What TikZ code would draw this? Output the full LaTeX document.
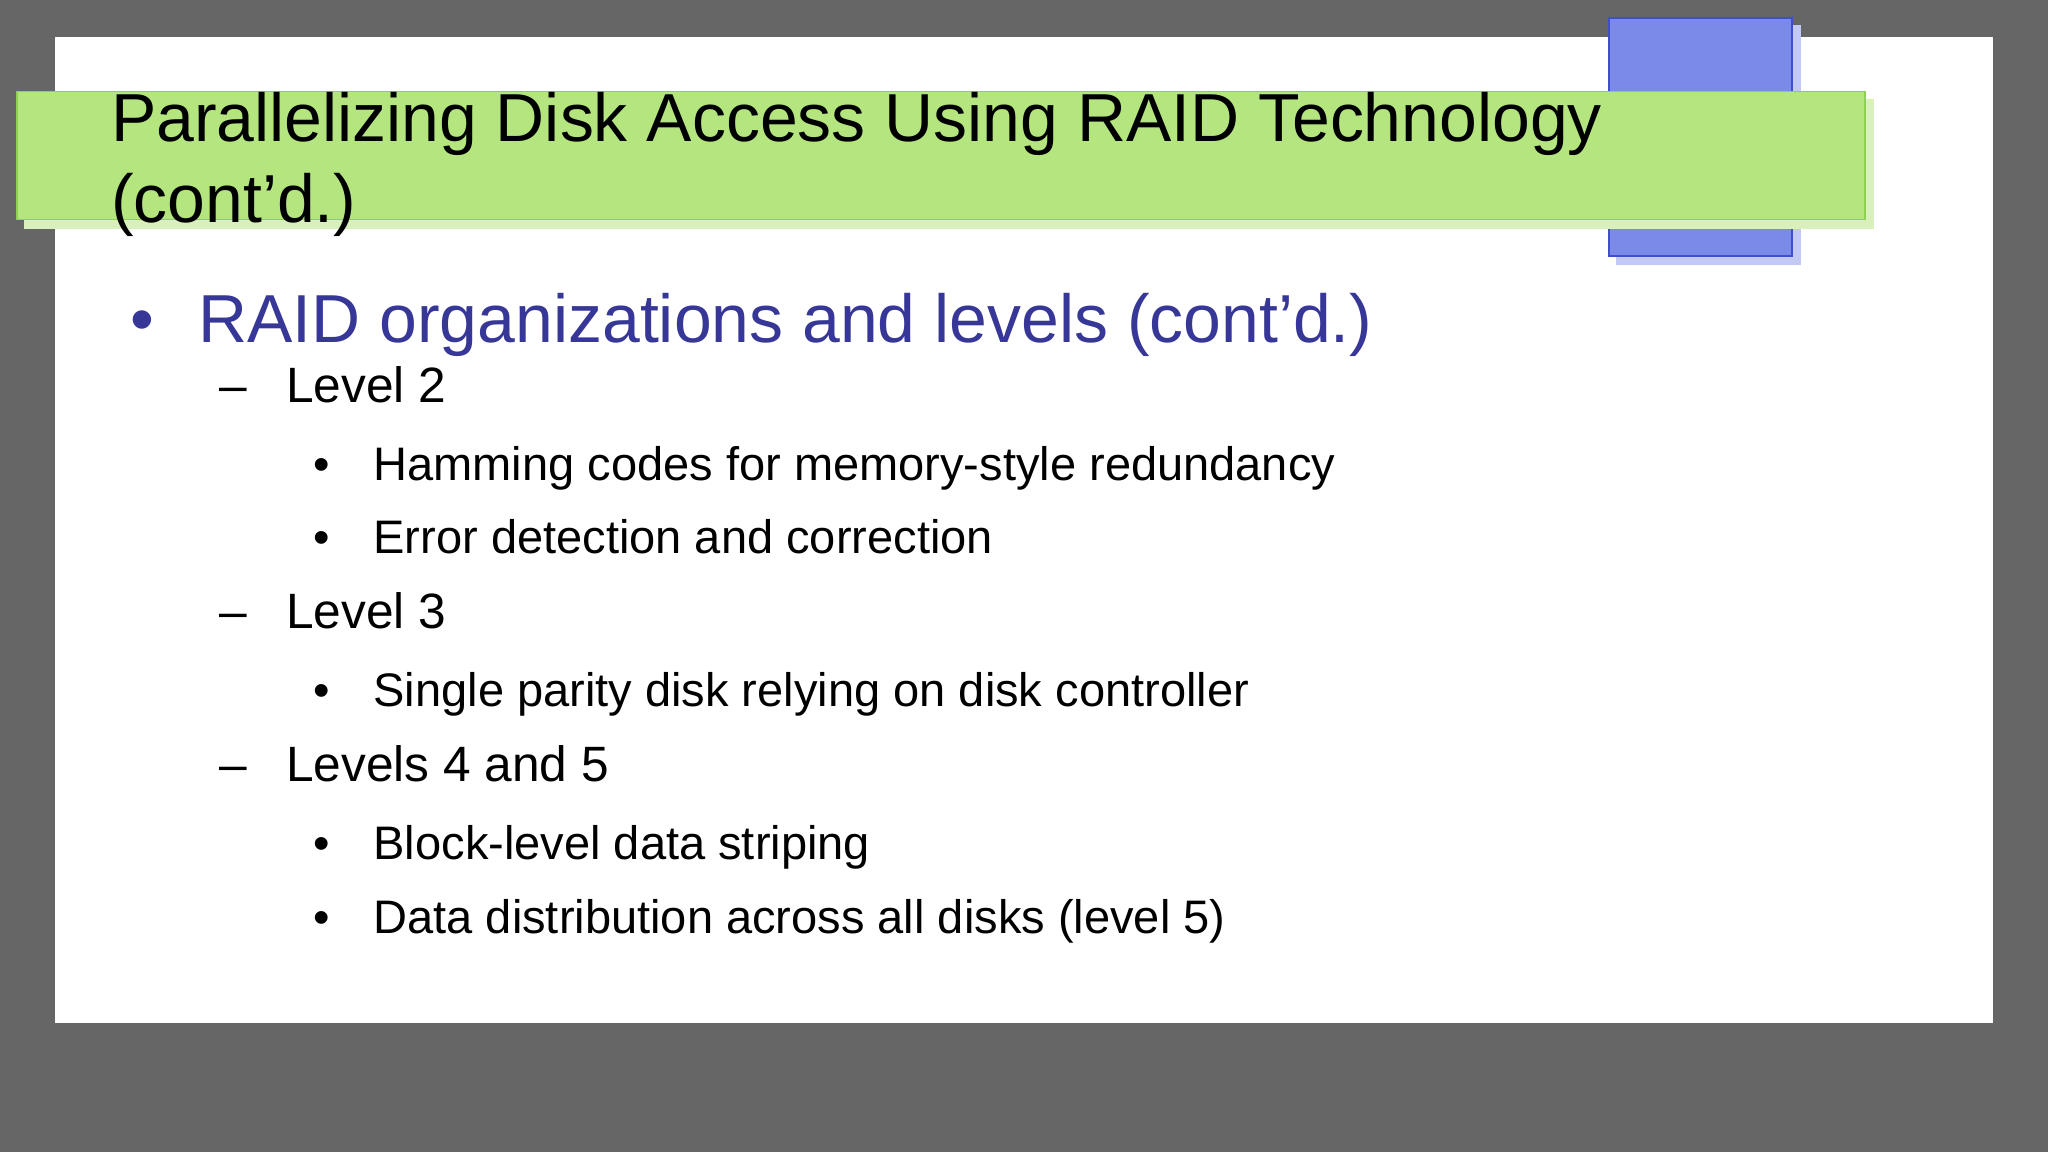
\documentclass[tikz,border=0pt]{standalone}
\usepackage{fontspec}
\setmainfont{Liberation Sans}
\definecolor{bg}{HTML}{666666}
\definecolor{gfill}{HTML}{B5E57F}
\definecolor{gdraw}{HTML}{8FD050}
\definecolor{gshad}{HTML}{D9F0BC}
\definecolor{bfill}{HTML}{7B89E8}
\definecolor{bdraw}{HTML}{3F4FC8}
\definecolor{bshad}{HTML}{C3C8F5}
\definecolor{headc}{HTML}{373798}
\tikzset{
 txt/.style={anchor=base west,inner sep=0pt,outer sep=0pt},
 ttl/.style={txt,font=\fontsize{52}{60}\selectfont},
 lv1/.style={txt,font=\fontsize{52}{60}\selectfont,text=headc},
 lv2/.style={txt,font=\fontsize{38}{44}\selectfont},
 lv3/.style={txt,font=\fontsize{36}{42}\selectfont},
}
\begin{document}
\begin{tikzpicture}[x=1pt,y=-1pt]
\fill[bg] (0,0) rectangle (1568,882);
\useasboundingbox (0,0) rectangle (1568,882);
\fill[white] (42,28) rectangle (1526,783);
\fill[bshad] (1237,19) rectangle (1379,203);
\filldraw[fill=bfill,draw=bdraw,line width=1.2pt] (1232,14) rectangle (1372,196);
\fill[gshad] (18,76) rectangle (1435,175);
\filldraw[fill=gfill,draw=gdraw,line width=1.2pt] (13,70) rectangle (1428,168);
\node[ttl] (t1) at (85,108) {Parallelizing Disk Access Using RAID Technology};
\node[ttl] (t2) at (85,170) {(cont’d.)};
\node[lv1] (b0) at (100,262) {•};
\node[lv1] (h) at (152,262) {RAID organizations and levels (cont’d.)};
\foreach \y/\t [count=\i] in {308/Level 2,481/Level 3,598/Levels 4 and 5}{
  \node[lv2] (d\i) at (168,\y) {–};
  \node[lv2] (l\i) at (219,\y) {\t};
}
\foreach \y/\t [count=\i] in {368/Hamming codes for memory-style redundancy,424/Error detection and correction,541/Single parity disk relying on disk controller,658/Block-level data striping,715/Data distribution across all disks (level 5)}{
  \node[lv3] (s\i) at (240,\y) {•};
  \node[lv3] (u\i) at (286,\y) {\t};
}
\end{tikzpicture}
\end{document}
